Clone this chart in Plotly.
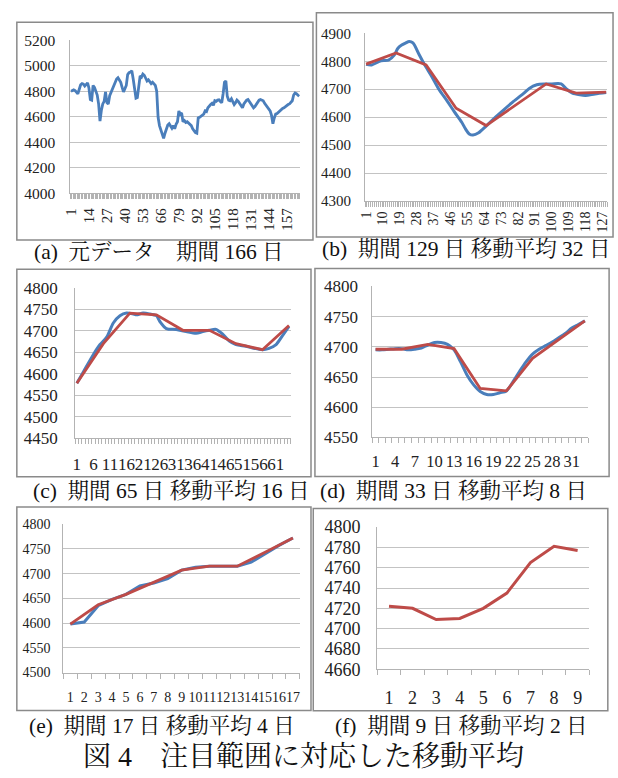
import plotly.graph_objects as go

W, H = 618, 778

# ---------------- data ----------------
# (a) raw data, 166 days
a_values = [
    4800, 4805, 4810, 4805, 4790, 4780, 4815, 4850, 4860, 4855,
    4840, 4850, 4865, 4825, 4735, 4730, 4845, 4830, 4800, 4770,
    4700, 4565, 4650, 4700, 4720, 4795, 4710, 4700, 4765, 4790,
    4820, 4840, 4860, 4895, 4905, 4890, 4870, 4830, 4795, 4820,
    4845, 4930, 4945, 4950, 4960, 4895, 4820, 4745, 4750, 4850,
    4920, 4910, 4935, 4925, 4895, 4880, 4890, 4875, 4860, 4870,
    4855, 4845, 4800, 4595, 4530, 4500, 4460, 4430, 4470, 4510,
    4535, 4545, 4530, 4510, 4530, 4505, 4540, 4560, 4645, 4620,
    4630, 4560, 4570, 4555, 4560, 4550, 4545, 4530, 4505, 4490,
    4475, 4470, 4590, 4595, 4605, 4610, 4620, 4645, 4640, 4670,
    4685, 4695, 4705, 4690, 4725, 4720, 4730, 4732, 4720, 4710,
    4780, 4870, 4880, 4760, 4730, 4725, 4740, 4715, 4695, 4710,
    4730, 4720, 4705, 4685, 4670, 4700, 4715, 4730, 4735, 4720,
    4705, 4690, 4670, 4680, 4700, 4720, 4730, 4735, 4730, 4725,
    4705, 4690, 4670, 4660, 4645, 4610, 4545, 4590, 4620, 4625,
    4635, 4650, 4655, 4665, 4670, 4680, 4685, 4695, 4700, 4710,
    4725, 4770, 4785, 4780, 4765, 4760,
]

# (b) 129 days, moving average 32
b_blue_day = [1, 4, 9, 13, 16, 18, 20, 22, 24, 26, 29, 32, 36, 40, 44, 48, 52, 54, 56, 58,
              61, 65, 70, 75, 79, 85, 88, 92, 96, 100, 105, 108, 111, 115, 118, 123, 129]
b_blue_val = [4789, 4787, 4802, 4804, 4822, 4847, 4858, 4865, 4871, 4866, 4828, 4790, 4746,
              4698, 4660, 4620, 4582, 4558, 4540, 4536, 4544, 4568, 4600, 4630, 4653, 4685,
              4703, 4716, 4719, 4719, 4719, 4700, 4686, 4680, 4678, 4683, 4688]
b_red_day = [1, 17, 33, 49, 65, 81, 97, 113, 129]
b_red_val = [4790, 4830, 4787, 4632, 4570, 4645, 4719, 4686, 4690]

# (c) 65 days, moving average 16
c_blue_day = [1, 3, 6, 8, 10, 12, 14, 16, 18, 19, 21, 23, 25, 26, 28, 31, 34, 37, 39, 41,
              43, 45, 47, 49, 52, 54, 57, 59, 61, 63, 65]
c_blue_val = [4578, 4605, 4645, 4668, 4685, 4718, 4735, 4741, 4739, 4737, 4741, 4739, 4735,
              4722, 4705, 4703, 4698, 4694, 4698, 4701, 4703, 4692, 4676, 4668, 4664, 4660,
              4656, 4659, 4667, 4688, 4710]
c_red_day = [1, 9, 17, 25, 33, 41, 49, 57, 65]
c_red_val = [4578, 4670, 4741, 4737, 4701, 4701, 4670, 4656, 4712]

# (d) 33 days, moving average 8
d_blue_val = [4695, 4695, 4696, 4697, 4697, 4695, 4696, 4698, 4703, 4707, 4707, 4704, 4695,
              4675, 4653, 4637, 4626, 4621, 4621, 4624, 4627, 4642, 4659, 4675, 4688, 4696,
              4702, 4708, 4715, 4722, 4731, 4737, 4743]
d_red_day = [1, 5, 9, 13, 17, 21, 25, 29, 33]
d_red_val = [4696, 4696, 4704, 4697, 4631, 4627, 4681, 4712, 4743]

# (e) 17 days, moving average 4
e_blue_val = [4598, 4602, 4635, 4648, 4658, 4675, 4681, 4690, 4707, 4713, 4715, 4715, 4715,
              4723, 4740, 4757, 4772]
e_red_day = [1, 3, 5, 7, 9, 11, 13, 15, 17]
e_red_val = [4598, 4637, 4658, 4682, 4707, 4715, 4715, 4743, 4772]

# (f) 9 days, moving average 2
f_red_val = [4722, 4720, 4709, 4710, 4720, 4735, 4765, 4781, 4777]

captions = [
    "(a)  元データ　期間 166 日",
    "(b)  期間 129 日 移動平均 32 日",
    "(c)  期間 65 日 移動平均 16 日",
    "(d)  期間 33 日 移動平均 8 日",
    "(e)  期間 17 日 移動平均 4 日",
    "(f)  期間 9 日 移動平均 2 日",
]
title_text = "図 4　注目範囲に対応した移動平均"

# ---------------- styling / layout (pixels) ----------------
BLUE = "#4a7ebb"
RED = "#be4b48"
GRID = "#c3c3c3"
AXIS = "#b3b3b3"
BOX = "#8a8a8a"
CLEAR = "rgba(0,0,0,0)"
SERIF = "Liberation Serif, Times New Roman, serif"
CJK = "Liberation Serif, Noto Serif CJK JP, Noto Sans CJK JP, serif"

# plot area: x0, x1, ytop, ybottom
areas = {
    1: (64.3, 297.7, 31.0, 188.0),
    2: (364.0, 610.0, 24.0, 196.0),
    3: (69.3, 288.3, 285.0, 439.7),
    4: (371.3, 590.7, 283.7, 438.7),
    5: (57.3, 297.7, 527.7, 680.0),
    6: (376.3, 592.0, 530.7, 676.7),
}
boxes = {
    1: (10, 311, 12.7, 236),
    2: (314.5, 616, 2.7, 233),
    3: (10, 309, 266, 479),
    4: (313, 612, 265.3, 478.7),
    5: (10, 309, 510, 719),
    6: (311.3, 610.7, 511.7, 719.3),
}
caption_pos = {1: (154, 248), 2: (467, 245), 3: (167, 494), 4: (454, 494),
               5: (158, 735), 6: (462, 735)}

ncat = {1: 166, 2: 129, 3: 65, 4: 33, 5: 17, 6: 9}
label_step = {1: 13, 2: 9, 3: 5, 4: 3, 5: 1, 6: 1}
yrange = {1: (4000, 5200), 2: (4300, 4900), 3: (4450, 4800), 4: (4550, 4800),
          5: (4500, 4800), 6: (4660, 4800)}
ystep = {1: 200, 2: 100, 3: 50, 4: 50, 5: 50, 6: 20}
ytick_font = {1: 15.5, 2: 15, 3: 17, 4: 17, 5: 14, 6: 18}
xtick_font = {1: 15, 2: 14, 3: 17, 4: 16.5, 5: 14, 6: 18}
xlab_angle = {1: -90, 2: -90, 3: 0, 4: 0, 5: 0, 6: 0}
xlab_gap = {1: 8, 2: 4, 3: 10, 4: 9, 5: 12, 6: 12}
ylab_gap = {1: 11, 2: 10, 3: 13, 4: 10, 5: 9, 6: 12}

fig = go.Figure()


def add_line(k, xs, ys, color, width, shape="linear"):
    fig.add_trace(go.Scatter(
        x=xs, y=ys, mode="lines",
        line=dict(color=color, width=width, shape=shape, smoothing=0.8),
        xaxis="x" if k == 1 else f"x{k}", yaxis="y" if k == 1 else f"y{k}",
        showlegend=False, hoverinfo="skip"))


days = lambda n: list(range(1, n + 1))

add_line(1, days(len(a_values)), a_values, BLUE, 2.8)
add_line(2, b_blue_day, b_blue_val, BLUE, 3, "spline")
add_line(2, b_red_day, b_red_val, RED, 2.8)
add_line(3, c_blue_day, c_blue_val, BLUE, 3, "spline")
add_line(3, c_red_day, c_red_val, RED, 2.8)
add_line(4, days(len(d_blue_val)), d_blue_val, BLUE, 3, "spline")
add_line(4, d_red_day, d_red_val, RED, 2.8)
add_line(5, days(len(e_blue_val)), e_blue_val, BLUE, 3)
add_line(5, e_red_day, e_red_val, RED, 2.8)
add_line(6, days(len(f_red_val)), f_red_val, RED, 3)

layout = dict(
    width=W, height=H, margin=dict(l=0, r=0, t=0, b=0),
    paper_bgcolor="white", plot_bgcolor="white",
    showlegend=False,
)

shapes = []
annotations = []
for k in range(1, 7):
    x0, x1, yt, yb = areas[k]
    n = ncat[k]
    labels = list(range(1, n + 1, label_step[k]))
    xa = dict(
        domain=[x0 / W, x1 / W],
        range=[0.5, n + 0.5],
        anchor="y" if k == 1 else f"y{k}",
        tickmode="array", tickvals=labels, ticktext=[str(v) for v in labels],
        tickangle=xlab_angle[k],
        ticks="outside", ticklen=xlab_gap[k], tickcolor=CLEAR,
        tickfont=dict(family=SERIF, size=xtick_font[k], color="#222"),
        minor=dict(tickmode="array", tickvals=[i + 0.5 for i in range(0, n + 1)],
                   ticks="outside", ticklen=5, tickcolor=AXIS, tickwidth=1, showgrid=False),
        showgrid=False, zeroline=False, showline=True, linecolor=AXIS, linewidth=1,
        fixedrange=True,
    )
    lo, hi = yrange[k]
    ya = dict(
        domain=[1 - yb / H, 1 - yt / H],
        range=[lo, hi],
        anchor="x" if k == 1 else f"x{k}",
        tickmode="linear", tick0=lo, dtick=ystep[k],
        ticks="outside", ticklen=ylab_gap[k], tickcolor=CLEAR,
        tickfont=dict(family=SERIF, size=ytick_font[k], color="#222"),
        showgrid=True, gridcolor=GRID, gridwidth=1,
        zeroline=False, showline=True, linecolor=AXIS, linewidth=1,
        fixedrange=True,
    )
    layout["xaxis" if k == 1 else f"xaxis{k}"] = xa
    layout["yaxis" if k == 1 else f"yaxis{k}"] = ya

    bx0, bx1, by0, by1 = boxes[k]
    shapes.append(dict(type="rect", xref="paper", yref="paper",
                       x0=bx0 / W, x1=bx1 / W, y0=1 - by1 / H, y1=1 - by0 / H,
                       line=dict(color=BOX, width=1.5), fillcolor=CLEAR))
    cx, cy = caption_pos[k]
    annotations.append(dict(text=captions[k - 1], xref="paper", yref="paper",
                            x=cx / W, y=1 - cy / H, xanchor="center", yanchor="middle",
                            showarrow=False, font=dict(family=CJK, size=21.5, color="#111")))

annotations.append(dict(text=title_text, xref="paper", yref="paper",
                        x=301 / W, y=1 - 766 / H, xanchor="center", yanchor="middle",
                        showarrow=False, font=dict(family=CJK, size=28, color="#111")))

layout["shapes"] = shapes
layout["annotations"] = annotations
fig.update_layout(**layout)

fig.write_html("out.html", config=dict(displayModeBar=False),
               post_script="document.body.style.margin='0px';document.body.style.overflow='hidden';")
